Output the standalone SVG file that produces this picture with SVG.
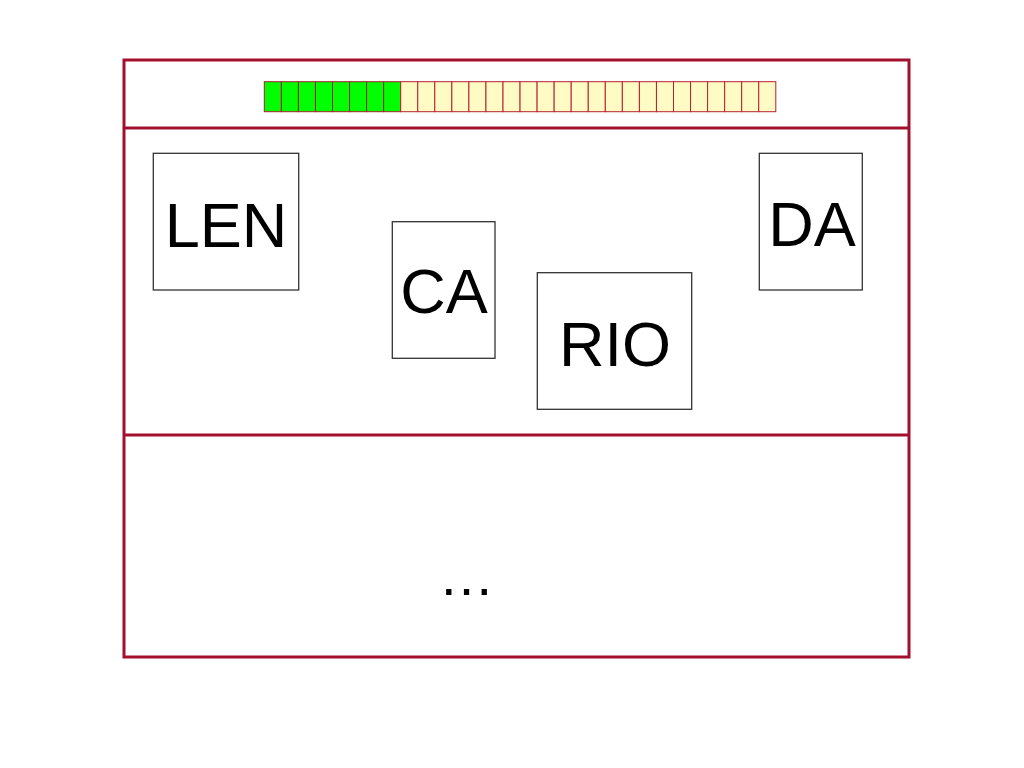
<svg xmlns="http://www.w3.org/2000/svg" width="1024" height="768" viewBox="0 0 1024 768">
<style>
.frame{fill:none;stroke:#A3102F;stroke-width:3}
.node{fill:#fff;stroke:#333;stroke-width:1.3}
.lbl{font-family:"Liberation Sans",Arial,sans-serif;font-size:63px;fill:#000;text-anchor:middle}
.g{fill:#00FF00;stroke:#A52030;stroke-width:1}
.y{fill:#FFFBC4;stroke:#B82030;stroke-width:1}
</style>
<rect width="1024" height="768" fill="#fff"/>
<g id="frame">
<rect class="frame" x="124" y="60" width="785" height="597"/>
<line class="frame" x1="124" y1="128" x2="909" y2="128"/>
<line class="frame" x1="124" y1="435" x2="909" y2="435"/>
</g>
<g id="progress">
<rect class="g" x="264.3" y="81.7" width="17.05" height="30"/>
<rect class="g" x="281.35" y="81.7" width="17.05" height="30"/>
<rect class="g" x="298.4" y="81.7" width="17.05" height="30"/>
<rect class="g" x="315.45" y="81.7" width="17.05" height="30"/>
<rect class="g" x="332.5" y="81.7" width="17.05" height="30"/>
<rect class="g" x="349.55" y="81.7" width="17.05" height="30"/>
<rect class="g" x="366.6" y="81.7" width="17.05" height="30"/>
<rect class="g" x="383.65" y="81.7" width="17.05" height="30"/>
<rect class="y" x="400.7" y="81.7" width="17.05" height="30"/>
<rect class="y" x="417.75" y="81.7" width="17.05" height="30"/>
<rect class="y" x="434.8" y="81.7" width="17.05" height="30"/>
<rect class="y" x="451.85" y="81.7" width="17.05" height="30"/>
<rect class="y" x="468.9" y="81.7" width="17.05" height="30"/>
<rect class="y" x="485.95" y="81.7" width="17.05" height="30"/>
<rect class="y" x="503" y="81.7" width="17.05" height="30"/>
<rect class="y" x="520.05" y="81.7" width="17.05" height="30"/>
<rect class="y" x="537.1" y="81.7" width="17.05" height="30"/>
<rect class="y" x="554.15" y="81.7" width="17.05" height="30"/>
<rect class="y" x="571.2" y="81.7" width="17.05" height="30"/>
<rect class="y" x="588.25" y="81.7" width="17.05" height="30"/>
<rect class="y" x="605.3" y="81.7" width="17.05" height="30"/>
<rect class="y" x="622.35" y="81.7" width="17.05" height="30"/>
<rect class="y" x="639.4" y="81.7" width="17.05" height="30"/>
<rect class="y" x="656.45" y="81.7" width="17.05" height="30"/>
<rect class="y" x="673.5" y="81.7" width="17.05" height="30"/>
<rect class="y" x="690.55" y="81.7" width="17.05" height="30"/>
<rect class="y" x="707.6" y="81.7" width="17.05" height="30"/>
<rect class="y" x="724.65" y="81.7" width="17.05" height="30"/>
<rect class="y" x="741.7" y="81.7" width="17.05" height="30"/>
<rect class="y" x="758.75" y="81.7" width="17.05" height="30"/>
</g>
<g id="node-LEN">
<rect class="node" x="153.3" y="153.3" width="145.4" height="136.7"/>
<text class="lbl" x="226" y="246.7">LEN</text>
</g>
<g id="node-CA">
<rect class="node" x="392.3" y="221.7" width="102.7" height="136.6"/>
<text class="lbl" x="444" y="313.3">CA</text>
</g>
<g id="node-RIO">
<rect class="node" x="537.3" y="272.7" width="154.4" height="136.6"/>
<text class="lbl" x="615" y="366">RIO</text>
</g>
<g id="node-DA">
<rect class="node" x="759.3" y="153.3" width="103" height="136.7"/>
<text class="lbl" x="812" y="246">DA</text>
</g>
<g id="connectors"></g>
<text x="466.5" y="595" style="font-family:'Liberation Sans',Arial,sans-serif;font-size:56px;fill:#000;text-anchor:middle">…</text>
</svg>
